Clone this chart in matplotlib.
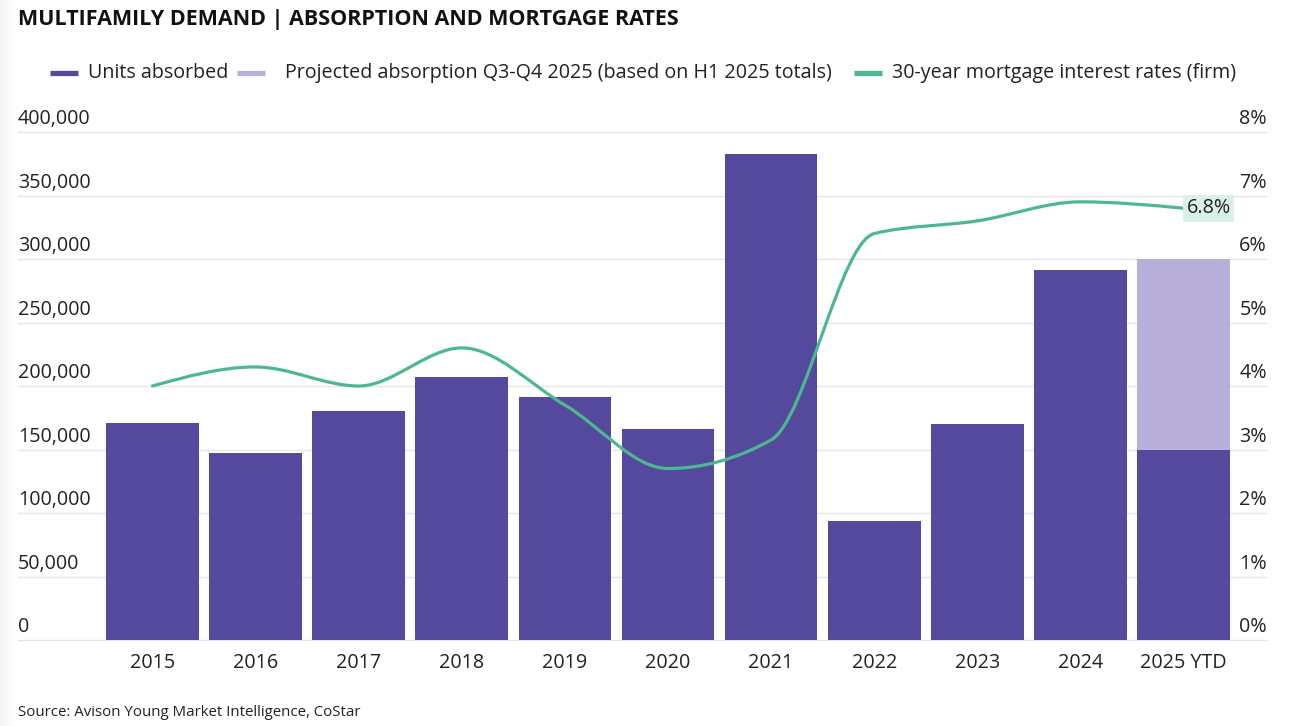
import numpy as np
import matplotlib.pyplot as plt
from matplotlib.path import Path
from matplotlib.patches import PathPatch
from matplotlib.lines import Line2D

plt.rcParams['font.family'] = ['Open Sans', 'DejaVu Sans']

years = ['2015', '2016', '2017', '2018', '2019', '2020', '2021', '2022', '2023', '2024', '2025 YTD']
units_absorbed = [171000, 147000, 180000, 207000, 191000, 166000, 383000, 94000, 170000, 291000, 150000]
projected = [0, 0, 0, 0, 0, 0, 0, 0, 0, 0, 150000]
mortgage_rate = [4.0, 4.3, 4.0, 4.6, 3.7, 2.7, 3.15, 6.4, 6.6, 6.9, 6.8]

left_ticks = [0, 50000, 100000, 150000, 200000, 250000, 300000, 350000, 400000]
right_ticks = [0, 1, 2, 3, 4, 5, 6, 7, 8]

BAR = '#55499e'
PROJ = '#b8b0db'
LINE = '#4cb891'
TXT = '#222222'
GRID = '#e6e6e6'
FS = 14.2


def monotone_path(x, y):
    # monotone cubic (like d3 curveMonotoneX) as bezier segments
    x = np.asarray(x, float)
    y = np.asarray(y, float)
    n = len(x)
    h = np.diff(x)
    s = np.diff(y) / h
    t = np.zeros(n)
    for i in range(1, n - 1):
        p = (s[i - 1] * h[i] + s[i] * h[i - 1]) / (h[i - 1] + h[i])
        t[i] = (np.sign(s[i - 1]) + np.sign(s[i])) * min(abs(s[i - 1]), abs(s[i]), 0.5 * abs(p))
    t[0] = (3 * s[0] - t[1]) / 2
    t[-1] = (3 * s[-1] - t[-2]) / 2
    verts = [(x[0], y[0])]
    codes = [Path.MOVETO]
    for i in range(n - 1):
        dx = h[i] / 3
        verts += [(x[i] + dx, y[i] + dx * t[i]),
                  (x[i + 1] - dx, y[i + 1] - dx * t[i + 1]),
                  (x[i + 1], y[i + 1])]
        codes += [Path.CURVE4] * 3
    return Path(verts, codes)


fig = plt.figure(figsize=(12.95, 7.26), dpi=100)
W, H = 1295, 726

# soft shadow on the left edge
shade = fig.add_axes([0, 0, 18 / W, 1])
grad = np.linspace(0.94, 1.0, 50).reshape(1, -1) ** 0.7
shade.imshow(grad, cmap='gray', vmin=0, vmax=1, aspect='auto', extent=[0, 1, 0, 1])
shade.axis('off')

ax = fig.add_axes([18 / W, (H - 640) / H, 1249 / W, 508 / H])
x = np.arange(len(years))
ax.bar(x, units_absorbed, width=0.9, color=BAR, zorder=2)
ax.bar(x, projected, width=0.9, bottom=units_absorbed, color=PROJ, zorder=2)

ax.set_xlim((18 - 152.5) / 103.1, (1267 - 152.5) / 103.1)
ax.set_ylim(0, 400000)
for v in left_ticks:
    ax.axhline(v, color=GRID, lw=1, zorder=0, clip_on=False)
    ax.text(0, v + 2000, f'{v:,}', transform=ax.get_yaxis_transform(),
            ha='left', va='bottom', fontsize=FS, color=TXT)
for sp in ax.spines.values():
    sp.set_visible(False)
ax.set_yticks([])
ax.set_xticks(x)
ax.set_xticklabels(years, fontsize=FS, color=TXT)
ax.tick_params(axis='x', length=0, pad=9)

ax2 = ax.twinx()
ax2.set_ylim(0, 8)
for sp in ax2.spines.values():
    sp.set_visible(False)
ax2.set_yticks([])
for v in right_ticks:
    ax2.text(1, v + 0.04, f'{v}%', transform=ax2.get_yaxis_transform(),
             ha='right', va='bottom', fontsize=FS, color=TXT)
ax2.add_patch(PathPatch(monotone_path(x, mortgage_rate), fill=False,
                        edgecolor=LINE, lw=2.3, capstyle='round', zorder=3))
ax2.text(x[-1] + 0.03, mortgage_rate[-1], f'{mortgage_rate[-1]}%', ha='left', va='center',
         fontsize=FS, color=TXT, zorder=4,
         bbox=dict(boxstyle='square,pad=0.18', fc='#dcf0e9', ec='none'))

# title
fig.text(18 / W, 1 - 20 / H, 'MULTIFAMILY DEMAND | ABSORPTION AND MORTGAGE RATES',
         fontsize=15.5, fontweight='bold', color='#111111', ha='left', va='center')

# legend
leg_y = 1 - 73 / H
items = [(50, 78, 88, BAR, 'Units absorbed'),
         (237, 265, 285, PROJ, 'Projected absorption Q3-Q4 2025 (based on H1 2025 totals)'),
         (854, 882, 892, LINE, '30-year mortgage interest rates (firm)')]
for x0, x1, tx, col, lab in items:
    fig.add_artist(Line2D([x0 / W, x1 / W], [leg_y, leg_y], color=col, lw=3.8,
                          solid_capstyle='butt', transform=fig.transFigure))
    fig.text(tx / W, leg_y, lab, fontsize=FS, color=TXT, ha='left', va='center')

fig.text(18 / W, 1 - 712 / H, 'Source: Avison Young Market Intelligence, CoStar',
         fontsize=10.8, color=TXT, ha='left', va='center')

fig.savefig('out.png', dpi=100)
